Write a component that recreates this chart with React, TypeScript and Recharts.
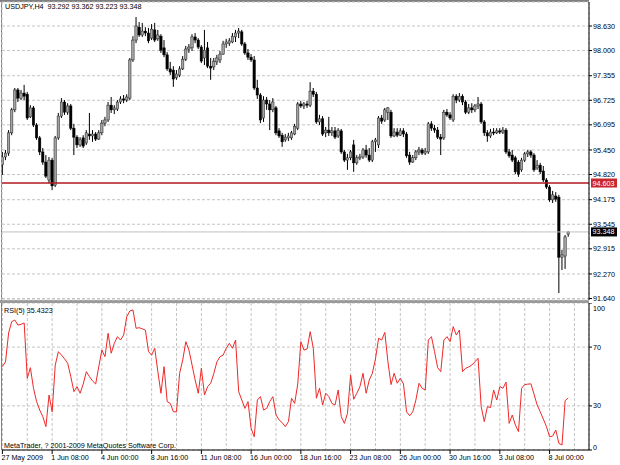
import React from 'react';
import { ComposedChart, LineChart, Bar, Line, XAxis, YAxis, CartesianGrid, ReferenceLine } from 'recharts';

// USDJPY H4 bars
const opens = [
  95.07, 95.27, 95.37, 95.89, 96.48, 96.99, 96.78, 96.91, 96.88, 96.30,
  96.53, 96.09, 95.76, 95.40, 95.14, 94.68, 95.19, 94.55, 95.76, 96.32,
  96.68, 96.42, 96.58, 96.01, 95.78, 95.58, 95.76, 95.63, 95.86, 95.81,
  95.86, 95.73, 95.89, 96.14, 96.22, 96.60, 96.48, 96.50, 96.68, 96.76,
  96.73, 96.78, 97.76, 98.27, 98.60, 98.40, 98.50, 98.45, 98.32, 98.53,
  98.30, 98.37, 98.07, 97.89, 97.53, 97.50, 97.30, 97.37, 97.53, 97.78,
  98.04, 98.07, 98.35, 98.27, 98.09, 97.81, 98.07, 97.60, 97.58, 97.71,
  97.76, 97.91, 98.17, 98.19, 98.22, 98.35, 98.45, 98.48, 98.17, 97.94,
  97.83, 97.76, 97.04, 96.86, 96.27, 96.73, 96.63, 96.48, 96.53, 95.94,
  95.83, 95.71, 95.76, 95.76, 95.86, 96.01, 96.63, 96.58, 96.63, 96.60,
  96.96, 96.88, 96.17, 96.25, 95.89, 95.96, 95.89, 95.94, 95.81, 95.94,
  95.40, 95.19, 95.25, 95.58, 95.12, 95.25, 95.27, 95.45, 95.32, 95.19,
  95.66, 95.58, 96.27, 96.22, 96.42, 96.42, 95.81, 95.91, 95.83, 95.94,
  95.86, 95.32, 95.14, 95.25, 95.40, 95.45, 95.37, 95.40, 96.12, 96.01,
  95.96, 95.78, 95.76, 96.42, 96.35, 96.22, 96.83, 96.73, 96.83, 96.68,
  96.42, 96.53, 96.48, 96.58, 96.63, 96.17, 95.89, 95.81, 95.91, 95.89,
  95.94, 95.91, 95.96, 95.40, 95.32, 95.25, 95.14, 94.94, 95.19, 95.35,
  95.40, 95.32, 94.99, 95.06, 94.91, 94.68, 94.50, 94.17, 94.27, 94.24,
  92.70, 92.73, 93.292,
];
const highs = [
  95.40, 95.45, 95.96, 96.53, 97.04, 97.04, 96.99, 97.12, 96.94, 96.60,
  96.58, 96.14, 95.81, 95.50, 95.32, 95.27, 95.25, 95.81, 96.40, 96.78,
  96.73, 96.65, 96.63, 96.12, 95.83, 95.78, 95.83, 95.96, 96.40, 95.96,
  95.91, 95.96, 96.22, 96.30, 96.68, 96.81, 96.60, 96.73, 96.83, 96.86,
  96.88, 97.81, 98.37, 98.86, 98.73, 98.71, 98.60, 98.58, 98.68, 98.71,
  98.53, 98.42, 98.27, 97.96, 97.71, 97.60, 97.50, 97.60, 97.86, 98.12,
  98.17, 98.42, 98.45, 98.32, 98.14, 98.53, 98.22, 97.81, 97.81, 97.89,
  97.99, 98.25, 98.30, 98.32, 98.45, 98.53, 98.58, 98.53, 98.22, 98.04,
  97.91, 97.86, 97.25, 96.91, 96.83, 96.81, 96.73, 96.78, 96.58, 96.01,
  95.89, 95.86, 95.89, 95.94, 96.12, 96.68, 96.71, 96.68, 96.71, 97.19,
  97.04, 96.94, 96.35, 96.32, 96.04, 96.30, 96.04, 96.04, 96.01, 95.99,
  95.45, 95.35, 95.45, 95.71, 95.32, 95.35, 95.50, 95.58, 95.50, 95.71,
  95.76, 96.32, 96.35, 96.53, 96.55, 96.48, 96.01, 96.01, 96.01, 96.01,
  95.91, 95.40, 95.32, 95.45, 95.53, 95.50, 95.50, 96.17, 96.19, 96.09,
  96.04, 95.86, 96.48, 96.50, 96.42, 96.88, 96.88, 96.91, 96.88, 96.73,
  96.63, 96.65, 96.63, 96.81, 96.68, 96.22, 95.96, 95.99, 96.01, 96.01,
  96.01, 96.04, 96.01, 95.48, 95.45, 95.30, 95.19, 95.25, 95.40, 95.45,
  95.45, 95.37, 95.19, 95.12, 95.04, 94.73, 94.55, 94.40, 94.37, 94.30,
  92.89, 93.27, 93.362,
];
const lows = [
  94.81, 95.19, 95.30, 95.83, 96.42, 96.68, 96.73, 96.73, 96.22, 96.27,
  96.04, 95.71, 95.32, 95.07, 94.73, 94.60, 94.42, 94.50, 95.71, 96.27,
  96.35, 96.35, 95.96, 95.32, 95.50, 95.53, 95.50, 95.58, 95.71, 95.66,
  95.68, 95.71, 95.83, 96.06, 96.17, 96.40, 96.37, 96.45, 96.63, 96.65,
  96.68, 96.73, 97.71, 98.19, 98.35, 98.35, 98.37, 98.19, 98.27, 98.22,
  98.25, 97.94, 97.83, 97.48, 97.37, 97.07, 97.25, 97.32, 97.50, 97.73,
  97.94, 97.99, 98.19, 98.04, 97.68, 97.63, 97.55, 97.25, 97.50, 97.63,
  97.68, 97.89, 98.07, 98.12, 98.19, 98.22, 98.32, 98.12, 97.89, 97.76,
  97.71, 96.99, 96.76, 96.14, 96.17, 96.48, 95.96, 96.42, 95.83, 95.76,
  95.53, 95.66, 95.68, 95.71, 95.83, 95.96, 96.53, 96.50, 96.53, 96.55,
  96.81, 96.12, 96.09, 95.81, 95.78, 95.81, 95.81, 95.73, 95.76, 95.35,
  95.14, 94.94, 95.19, 94.89, 95.07, 95.19, 95.22, 95.25, 95.14, 95.14,
  95.40, 95.50, 96.12, 96.17, 96.22, 95.76, 95.78, 95.78, 95.81, 95.78,
  95.25, 95.07, 95.12, 95.19, 95.32, 95.32, 95.32, 95.35, 95.94, 95.89,
  95.73, 95.32, 95.71, 96.30, 96.22, 96.17, 96.65, 96.68, 96.60, 96.37,
  96.37, 96.40, 96.42, 96.50, 96.12, 95.81, 95.66, 95.76, 95.83, 95.86,
  95.86, 95.86, 95.35, 95.25, 95.14, 94.83, 94.76, 94.89, 95.14, 95.27,
  95.25, 94.89, 94.94, 94.83, 94.63, 94.45, 94.12, 94.09, 94.12, 91.78,
  92.37, 92.40, 93.223,
];
const closes = [
  95.27, 95.37, 95.89, 96.48, 96.99, 96.78, 96.91, 96.83, 96.27, 96.53,
  96.09, 95.76, 95.40, 95.14, 94.78, 95.19, 94.53, 95.76, 96.32, 96.68,
  96.42, 96.58, 96.01, 95.78, 95.58, 95.71, 95.55, 95.89, 95.81, 95.86,
  95.73, 95.89, 96.14, 96.22, 96.60, 96.48, 96.53, 96.68, 96.76, 96.73,
  96.81, 97.76, 98.27, 98.63, 98.40, 98.50, 98.45, 98.25, 98.55, 98.27,
  98.40, 98.01, 97.89, 97.53, 97.45, 97.27, 97.40, 97.53, 97.78, 98.04,
  98.09, 98.35, 98.27, 98.09, 97.73, 98.01, 97.60, 97.55, 97.73, 97.81,
  97.91, 98.17, 98.22, 98.25, 98.37, 98.45, 98.50, 98.17, 97.94, 97.83,
  97.76, 97.04, 96.86, 96.22, 96.73, 96.63, 96.48, 96.68, 95.89, 95.81,
  95.66, 95.78, 95.81, 95.89, 96.06, 96.63, 96.58, 96.63, 96.60, 96.96,
  96.88, 96.17, 96.25, 95.86, 95.96, 95.89, 95.94, 95.78, 95.96, 95.40,
  95.19, 95.25, 95.40, 95.12, 95.25, 95.27, 95.45, 95.32, 95.19, 95.66,
  95.71, 96.27, 96.19, 96.48, 96.53, 95.81, 95.91, 95.83, 95.94, 95.86,
  95.30, 95.14, 95.25, 95.40, 95.45, 95.37, 95.42, 96.12, 96.01, 95.96,
  95.78, 95.73, 96.42, 96.35, 96.27, 96.83, 96.73, 96.83, 96.68, 96.42,
  96.53, 96.48, 96.58, 96.63, 96.17, 95.89, 95.81, 95.91, 95.89, 95.94,
  95.91, 95.96, 95.40, 95.30, 95.19, 94.89, 94.83, 95.19, 95.35, 95.40,
  95.32, 94.94, 95.06, 94.89, 94.68, 94.50, 94.17, 94.30, 94.19, 92.70,
  92.76, 93.22, 93.348,
];
// RSI(5), one value per bar
const rsiValues = [
  56.7, 60, 79.6, 87.3, 88.4, 85, 85.5, 86.4, 48.8, 56,
  42, 32.9, 27.2, 22.7, 15.9, 37.4, 26, 57.8, 66.9, 64.6,
  62, 59, 49.9, 39.7, 43.1, 38.6, 44.9, 53.3, 49.9, 47,
  44.9, 56.7, 68, 63.5, 79.4, 65.8, 72.6, 77.1, 74.8, 78.2,
  90.7, 94.6, 95.3, 82.8, 83.2, 82.4, 81.6, 66.9, 64.6, 69.2,
  53.3, 38.6, 56.7, 32.9, 31.7, 26, 26, 52.2, 61.2, 73.7,
  68, 57.8, 47.6, 38.6, 55.6, 37.4, 43.1, 45.4, 52, 60,
  63.5, 64.6, 69.2, 72.6, 69.2, 74.8, 39.7, 34, 28.3, 32.9,
  14.7, 9, 34, 36.3, 27.2, 28.3, 33, 36.3, 24, 20.4,
  18.6, 15.9, 19.3, 35.2, 31.7, 44.9, 73.7, 68, 68.7, 80.5,
  69.2, 35.2, 42, 30.6, 38.6, 36.3, 31.7, 30.6, 40.8, 22.7,
  18.1, 24.9, 51, 34.5, 38.6, 43.1, 52.2, 38.6, 47.6, 52.2,
  62, 76, 74.8, 80, 60, 44.5, 52.2, 45.4, 48.8, 44.9,
  26, 23.3, 26, 34, 45.4, 42, 40.8, 74.8, 77.1, 66.9,
  56, 53.3, 74.8, 77.1, 73.7, 83.9, 78.2, 81.6, 53.3, 55.6,
  56.5, 57.8, 60, 62.4, 29.5, 19.3, 29.5, 28.8, 40.8, 34,
  43.1, 42, 46.2, 18.1, 23.8, 17, 12.5, 42, 44.5, 44.8,
  45, 38, 30.6, 26, 21, 15.9, 9, 9.5, 13.6, 4.5,
  3.4, 33.6, 35.4323,
];

const timeLabels = [
  '27 May 2009', '1 Jun 08:00', '4 Jun 00:00', '8 Jun 16:00', '11 Jun 08:00', '16 Jun 00:00',
  '18 Jun 16:00', '23 Jun 08:00', '26 Jun 00:00', '30 Jun 16:00', '3 Jul 08:00', '8 Jul 00:00',
];
const priceLabels = ['98.630', '98.000', '97.355', '96.725', '96.095', '95.450', '94.820', '94.175', '93.545', '92.915', '92.270', '91.640'];
const rsiTicks = [0, 30, 70, 100];
const levelPrice = 94.603;
const bidPrice = 93.348;
const headline = 'USDJPY,H4  93.292 93.362 93.223 93.348';

const priceTicks = priceLabels.map(Number);
const labelStep = 16;
const gridStep = 8;
const gridTicks = Array.from({ length: 24 }, (_, k) => k * gridStep);
const xDomain = [-0.13, 188.68];
const FONT = 7.2;

const bars = opens.map((o, i) => ({
  idx: i,
  open: o,
  high: highs[i],
  low: lows[i],
  close: closes[i],
  range: [lows[i], highs[i]],
}));
const rsiData = rsiValues.map((v, i) => ({ idx: i, rsi: v }));

function Candle(props: any) {
  const { x, y, width, height, payload } = props;
  if (x == null || y == null || !payload) return <g />;
  const top = Math.min(y, y + height);
  const bottom = Math.max(y, y + height);
  const span = payload.high - payload.low || 1e-6;
  const toY = (v: number) => top + ((payload.high - v) / span) * (bottom - top);
  const cx = x + width / 2;
  const yo = toY(payload.open);
  const yc = toY(payload.close);
  const bull = payload.close >= payload.open;
  const bw = 2.4;
  return (
    <g>
      <line x1={cx} x2={cx} y1={top} y2={bottom} stroke="#000" strokeWidth={1} />
      <rect
        x={cx - bw / 2}
        y={Math.min(yo, yc)}
        width={bw}
        height={Math.max(Math.abs(yc - yo), 1)}
        fill={bull ? '#a3a3a3' : '#000'}
        stroke={bull ? '#202020' : '#000'}
        strokeWidth={0.5}
      />
    </g>
  );
}

function PriceTag(props: any) {
  const { viewBox, text, bg } = props;
  if (!viewBox) return <g />;
  const x = viewBox.x + viewBox.width + 2;
  const y = viewBox.y;
  return (
    <g>
      <rect x={x} y={y - 4.5} width={26} height={9} fill={bg} />
      <text x={x + 1.5} y={y} dy="0.35em" fontSize={FONT} fill="#fff">{text}</text>
    </g>
  );
}

function TimeTick(props: any) {
  const { x, y, payload } = props;
  const i = payload.value;
  if (i % labelStep !== 0 || !timeLabels[i / labelStep]) return <g />;
  return (
    <g>
      <line x1={x} x2={x} y1={y - 5} y2={y - 1} stroke="#000" />
      <text x={x - 1} y={y} dy="0.71em" fontSize={FONT} fill="#000">{timeLabels[i / labelStep]}</text>
    </g>
  );
}

function RsiTick(props: any) {
  const { x, y, payload } = props;
  const v = payload.value;
  const shift = v === 100 ? 5 : v === 0 ? -3 : 0;
  return (
    <text x={x} y={y + shift} dy="0.35em" fontSize={FONT} fill="#000" textAnchor="start">{v}</text>
  );
}

const textStyle: React.CSSProperties = {
  position: 'absolute',
  fontSize: FONT,
  lineHeight: '9px',
  color: '#000',
  whiteSpace: 'pre',
};

export default function App() {
  return (
    <div
      style={{
        position: 'fixed',
        left: 0,
        top: 0,
        width: 620,
        height: 465,
        background: '#fff',
        fontFamily: '"Liberation Sans", Arial, sans-serif',
        overflow: 'hidden',
      }}
    >
      <div style={{ position: 'absolute', left: 0, top: 303 }}>
        <LineChart width={620} height={162} data={rsiData} margin={{ top: 0, right: 0, bottom: 0, left: 2 }}>
          <CartesianGrid stroke="#c4c4c4" strokeDasharray="3 2" />
          <XAxis
            dataKey="idx"
            type="number"
            domain={xDomain}
            ticks={gridTicks}
            interval={0}
            allowDataOverflow
            height={15}
            tick={<TimeTick />}
            tickLine={false}
            tickSize={3}
            tickMargin={2}
            axisLine={{ stroke: '#000' }}
          />
          <YAxis
            orientation="right"
            width={31}
            domain={[0, 100]}
            ticks={rsiTicks}
            interval={0}
            allowDataOverflow
            tick={<RsiTick />}
            tickSize={3}
            tickMargin={1}
            axisLine={{ stroke: '#000' }}
            tickLine={{ stroke: '#000' }}
          />
          <Line dataKey="rsi" type="linear" stroke="#f02828" strokeWidth={1} dot={false} isAnimationActive={false} />
        </LineChart>
      </div>

      {/* frame */}
      <div style={{ position: 'absolute', left: 0, top: 0, width: 589, height: 1.5, background: '#808080' }} />
      <div style={{ position: 'absolute', left: 1, top: 0, width: 1, height: 450, background: '#808080' }} />
      <div style={{ position: 'absolute', left: 0, top: 299.5, width: 589, height: 3.5, background: '#9a9a9a' }} />

      <div style={{ position: 'absolute', left: 0, top: 0 }}>
        <ComposedChart width={620} height={306} data={bars} margin={{ top: 2, right: 0, bottom: 6, left: 2 }}>
          <CartesianGrid stroke="#c4c4c4" strokeDasharray="3 2" />
          <XAxis
            dataKey="idx"
            type="number"
            domain={xDomain}
            ticks={gridTicks}
            interval={0}
            allowDataOverflow
            height={0}
            tick={false}
            tickLine={false}
            axisLine={false}
          />
          <YAxis
            orientation="right"
            width={31}
            domain={[91.602, 99.246]}
            ticks={priceTicks}
            interval={0}
            allowDataOverflow
            tickFormatter={(v: number) => priceLabels[priceTicks.indexOf(v)] ?? String(v)}
            tick={{ fontSize: FONT, fill: '#000' }}
            tickSize={3}
            tickMargin={1}
            axisLine={{ stroke: '#000' }}
            tickLine={{ stroke: '#000' }}
          />
          <Bar dataKey="range" barSize={3} shape={<Candle />} isAnimationActive={false} />
          <ReferenceLine
            y={bidPrice}
            stroke="#c0c0c0"
            strokeWidth={1}
            label={(p: any) => <PriceTag viewBox={p.viewBox} text={bidPrice.toFixed(3)} bg="#000" />}
          />
          <ReferenceLine
            y={levelPrice}
            stroke="#b01820"
            strokeWidth={1.6}
            label={(p: any) => <PriceTag viewBox={p.viewBox} text={levelPrice.toFixed(3)} bg="#c8282d" />}
          />
        </ComposedChart>
      </div>

      <div style={{ ...textStyle, left: 5, top: 2 }}>{headline}</div>
      <div style={{ ...textStyle, left: 4, top: 306 }}>{`RSI(5) ${rsiValues[rsiValues.length - 1].toFixed(4)}`}</div>
      <div style={{ ...textStyle, left: 4, top: 441 }}>MetaTrader, ? 2001-2009 MetaQuotes Software Corp.</div>
    </div>
  );
}
